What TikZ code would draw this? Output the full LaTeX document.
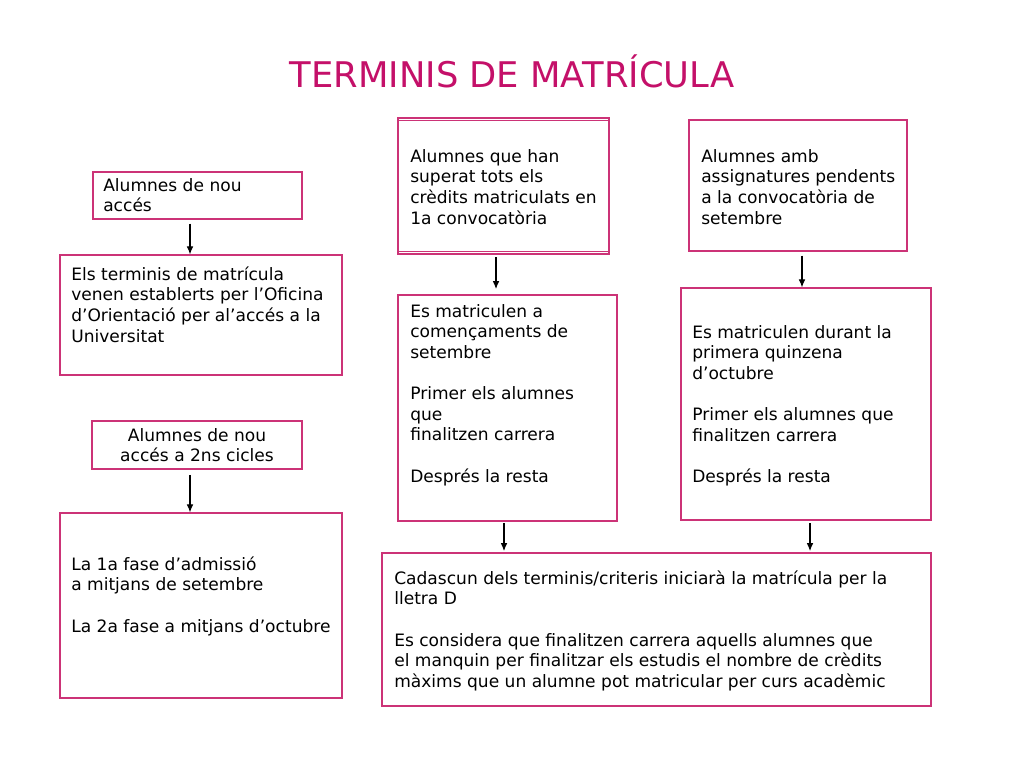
\documentclass[tikz,border=0pt]{standalone}
\usepackage{fontspec}
\setmainfont{DejaVu Sans}
\usetikzlibrary{fit,arrows.meta}
\definecolor{titlecol}{RGB}{196,16,105}
\definecolor{boxcol}{RGB}{204,51,119}
\tikzset{
  box/.style={draw=boxcol, line width=0.9pt, inner sep=0pt, rectangle},
  txt/.style={anchor=north west, inner sep=0pt, align=left, font=\fontsize{12.8}{15.45}\selectfont},
  ctxt/.style={anchor=north, inner sep=0pt, align=center, font=\fontsize{12.8}{15.45}\selectfont},
  arr/.style={draw=black, line width=0.8pt, -{Latex[length=6pt,width=5pt]}},
}
\begin{document}
\begin{tikzpicture}[x=0.75pt,y=-0.75pt]
\fill[white] (0,0) rectangle (1024,768);
\useasboundingbox (0,0) rectangle (1024,768);

\node[anchor=base, inner sep=0pt, text=titlecol, font=\fontsize{26.5}{30}\selectfont] (title) at (512,87) {TERMINIS DE MATRÍCULA};

% boxes
\node[box, fit={(93,172)(302,219)}] (b1) {};
\node[box, fit={(60,255)(342,375)}] (b2) {};
\node[box, fit={(92,421)(302,469)}] (b3) {};
\node[box, fit={(60,513)(342,698)}] (b4) {};
\node[box, fit={(398,118)(609,254)}] (b5) {};
\node[box, fit={(689,120)(907,251)}] (b6) {};
\node[box, fit={(398,295)(617,521)}] (b7) {};
\node[box, fit={(681,288)(931,520)}] (b8) {};
\node[box, fit={(382,553)(931,706)}] (b9) {};
\draw[boxcol, line width=0.7pt] (b5.north west) ++(0,3) -- ++(211,0);
\draw[boxcol, line width=0.7pt] (b5.south west) ++(0,-3) -- ++(211,0);

% texts
\node[txt] (t1) at (103,176.6) {\strut Alumnes de nou\\accés};
\node[txt] (t2) at (71,265.6) {\strut Els terminis de matrícula\\venen establerts per l’Oficina\\d’Orientació per al’accés a la\\Universitat};
\node[ctxt] (t3) at (197,426.6) {\strut Alumnes de nou\\accés a 2ns cicles};
\node[txt] (t4) at (71,555.6) {\strut La 1a fase d’admissió\\a mitjans de setembre\\[15.45pt]La 2a fase a mitjans d’octubre};
\node[txt] (t5) at (410,147.6) {\strut Alumnes que han\\superat tots els\\crèdits matriculats en\\1a convocatòria};
\node[txt] (t6) at (701,147.6) {\strut Alumnes amb\\assignatures pendents\\a la convocatòria de\\setembre};
\node[txt] (t7) at (410,302.6) {\strut Es matriculen a\\començaments de\\setembre\\[15.45pt]Primer els alumnes\\que\\finalitzen carrera\\[15.45pt]Després la resta};
\node[txt] (t8) at (692,323.6) {\strut Es matriculen durant la\\primera quinzena\\d’octubre\\[15.45pt]Primer els alumnes que\\finalitzen carrera\\[15.45pt]Després la resta};
\node[txt] (t9) at (394,569.6) {\strut Cadascun dels terminis/criteris iniciarà la matrícula per la\\lletra D\\[15.45pt]Es considera que finalitzen carrera aquells alumnes que\\el manquin per finalitzar els estudis el nombre de crèdits\\màxims que un alumne pot matricular per curs acadèmic};

% arrows
\draw[arr] ([yshift=-3]b1.south -| 190,0) -- (b2.north -| 190,0);
\draw[arr] ([yshift=-4]b3.south -| 190,0) -- (b4.north -| 190,0);
\draw[arr] ([yshift=-2]b5.south -| 496,0) -- ([yshift=4]b7.north -| 496,0);
\draw[arr] ([yshift=-3]b6.south -| 802,0) -- (b8.north -| 802,0);
\draw[arr] ([yshift=-1]b7.south -| 504,0) -- ([yshift=1]b9.north -| 504,0);
\draw[arr] ([yshift=-2]b8.south -| 810,0) -- ([yshift=1]b9.north -| 810,0);
\end{tikzpicture}
\end{document}
